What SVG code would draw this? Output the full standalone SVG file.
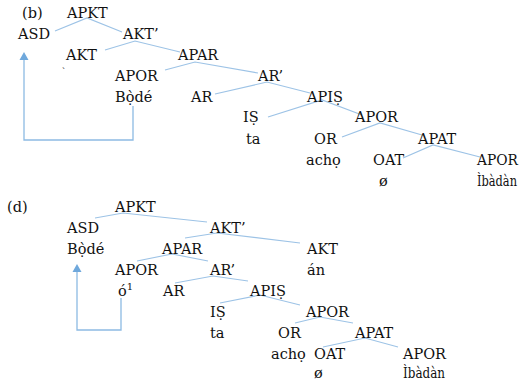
<svg xmlns="http://www.w3.org/2000/svg" width="522" height="380" viewBox="0 0 522 380">
<defs>
<style>
text{font-family:"DejaVu Serif","Liberation Serif",serif;font-size:14.5px;fill:#111;}
.e{stroke:#9dc3e6;stroke-width:1.2;fill:none;}
.mv{stroke:#8dbae3;stroke-width:1.3;fill:none;}
.ah{fill:#6fa8dc;stroke:none;}
</style>
</defs>
<rect width="522" height="380" fill="#fff"/>

<g id="connectors">
<!-- (b) -->
<polyline class="e" points="55,31 87,18 122,32"/>
<polyline class="e" points="105,50 135,41 180,52"/>
<polyline class="e" points="165,70 195,62 258,73"/>
<polyline class="e" points="215,94 267,82 310,93"/>
<polyline class="e" points="268,117 322,100 362,115"/>
<polyline class="e" points="342,137 380,123 422,135"/>
<polyline class="e" points="403,158 433,145 480,157"/>
<polyline class="mv" points="133,106 133,140 24,140 24,59"/>
<polygon class="ah" points="24,52 28.5,60 19.5,60"/>
<!-- (d) -->
<polyline class="e" points="95,218 123,213 207,222"/>
<polyline class="e" points="185,238 217,233 300,243"/>
<polyline class="e" points="137,261 172,254 208,261"/>
<polyline class="e" points="175,283 213,276 248,281"/>
<polyline class="e" points="220,303 260,295 300,305"/>
<polyline class="e" points="295,323 320,317 353,323"/>
<polyline class="e" points="323,347 365,338 398,347"/>
<polyline class="mv" points="121,298 121,330 77,330 77,271"/>
<polygon class="ah" points="77,264 81.5,272 72.5,272"/>
</g>

<g id="tree-b">
<text id="lbl-b" x="22" y="18">(b)</text>
<g id="b-apkt"><text x="67" y="18">APKT</text></g>
<g id="b-asd"><text x="18" y="39">ASD</text></g>
<g id="b-akt1"><text x="123" y="39">AKT’</text></g>
<g id="b-akt"><text x="66" y="60">AKT</text><text x="62" y="67" style="font-size:9px">ˏ</text></g>
<g id="b-apar"><text x="178" y="60">APAR</text></g>
<g id="b-apor1"><text x="115" y="81">APOR</text><text x="115" y="102">Bọ̀dé</text></g>
<g id="b-ar1"><text x="258" y="81">AR’</text></g>
<g id="b-ar"><text x="191" y="102">AR</text></g>
<g id="b-apis"><text x="307" y="102">APIṢ</text></g>
<g id="b-is"><text x="243" y="122">IṢ</text><text x="246" y="144">ta</text></g>
<g id="b-apor2"><text x="355" y="122">APOR</text></g>
<g id="b-or"><text x="314" y="144">OR</text><text x="306" y="165">achọ</text></g>
<g id="b-apat"><text x="418" y="144">APAT</text></g>
<g id="b-oat"><text x="373" y="165">OAT</text><text x="379" y="186">ø</text></g>
<g id="b-apor3"><text x="477" y="165" textLength="41" lengthAdjust="spacingAndGlyphs">APOR</text><text x="477" y="186" textLength="40" lengthAdjust="spacingAndGlyphs">Ìbàdàn</text></g>
</g>

<g id="tree-d">
<text id="lbl-d" x="7" y="212">(d)</text>
<g id="d-apkt"><text x="115" y="212">APKT</text></g>
<g id="d-asd"><text x="67" y="233">ASD</text><text x="67" y="254">Bọ̀dé</text></g>
<g id="d-akt1"><text x="210" y="233">AKT’</text></g>
<g id="d-apar"><text x="162" y="254">APAR</text></g>
<g id="d-akt"><text x="307" y="254">AKT</text><text x="307" y="275">án</text></g>
<g id="d-apor1"><text x="115" y="275">APOR</text><text x="118" y="296">ó<tspan dy="-6" style="font-size:10px">1</tspan></text></g>
<g id="d-ar1"><text x="210" y="275">AR’</text></g>
<g id="d-ar"><text x="163" y="296">AR</text></g>
<g id="d-apis"><text x="250" y="296">APIṢ</text></g>
<g id="d-is"><text x="210" y="317">IṢ</text><text x="210" y="338">ta</text></g>
<g id="d-apor2"><text x="306" y="317">APOR</text></g>
<g id="d-or"><text x="278" y="338">OR</text><text x="271" y="359">achọ</text></g>
<g id="d-apat"><text x="355" y="338">APAT</text></g>
<g id="d-oat"><text x="314" y="359">OAT</text><text x="314" y="378">ø</text></g>
<g id="d-apor3"><text x="403" y="359">APOR</text><text x="403" y="378" textLength="42" lengthAdjust="spacingAndGlyphs">Ìbàdàn</text></g>
</g>
</svg>
